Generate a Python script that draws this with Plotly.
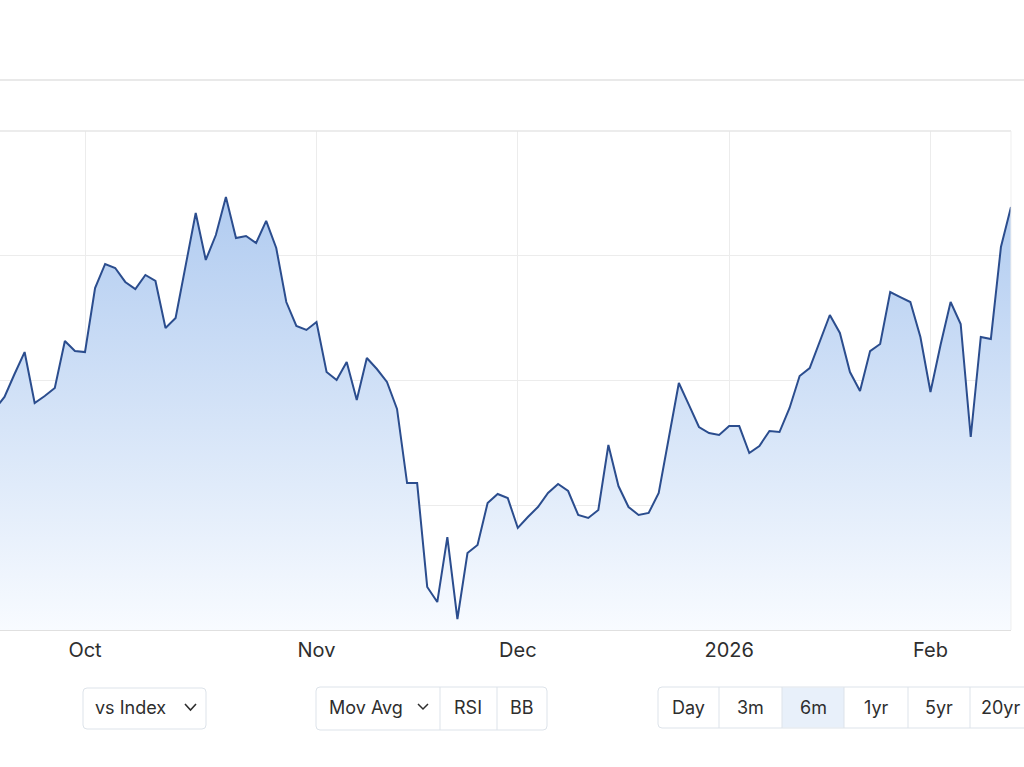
import pandas as pd
import plotly.graph_objects as go

# ---- data ----
holidays = ["2025-12-25", "2025-12-26", "2026-01-01", "2026-01-19"]
dates = [d.strftime("%Y-%m-%d") for d in pd.bdate_range("2025-09-18", "2026-02-12")
         if d.strftime("%Y-%m-%d") not in holidays]

prices = [
    77.64, 78.68, 80.52, 82.28, 78.20, 78.76, 79.40, 83.17, 82.36,           # Sep
    82.28, 87.41, 89.34, 89.02, 87.90, 87.33, 88.46, 87.98, 84.21, 85.01,     # Oct
    89.10, 93.43, 89.66, 91.66, 94.71, 91.42, 91.58, 91.02, 92.79, 90.62,
    86.29, 84.37, 84.05,
    84.69, 80.68, 80.04, 81.48, 78.44, 81.80, 80.92, 79.88, 77.72, 71.78,     # Nov
    71.78, 63.45, 62.24, 67.45, 60.88, 66.17, 66.81, 70.18, 70.90, 70.58,
    68.18, 69.06, 69.86, 70.98, 71.70, 71.14, 69.22, 68.98, 69.62, 74.83,     # Dec
    71.54, 69.86, 69.22, 69.38, 70.98, 75.39, 79.80, 78.04, 76.27, 75.79,
    75.63,
    76.35, 76.35, 74.19, 74.75, 75.95, 75.87, 77.80, 80.36, 81.00, 83.09,     # Jan
    85.25, 83.81, 80.68, 79.16, 82.36, 82.93, 87.09, 86.69, 86.29, 83.49,
    79.08, 82.85, 86.29, 84.53, 75.47, 83.49, 83.33, 90.70, 93.91,            # Feb
]

tick_dates = ["2025-10-01", "2025-11-03", "2025-12-01", "2026-01-02", "2026-02-02"]
tick_labels = ["Oct", "Nov", "Dec", "2026", "Feb"]
y_ticks = [60, 70, 80, 90, 100]

indicator_buttons = ["RSI", "BB"]
range_buttons = ["Day", "3m", "6m", "1yr", "5yr", "20yr"]
selected_range = "6m"

# ---- layout geometry (pixels) ----
W, H = 1024, 767
PL, PR = 0, 1011
PT, PB = 131, 630
PW, PH = PR - PL, PB - PT


def X(px):
    return (px - PL) / PW


def Y(py):
    return (PB - py) / PH


def rrect(x0, y0, x1, y1, r=4):
    pts = (f"M{X(x0 + r)},{Y(y0)} L{X(x1 - r)},{Y(y0)} Q{X(x1)},{Y(y0)} {X(x1)},{Y(y0 + r)} "
           f"L{X(x1)},{Y(y1 - r)} Q{X(x1)},{Y(y1)} {X(x1 - r)},{Y(y1)} "
           f"L{X(x0 + r)},{Y(y1)} Q{X(x0)},{Y(y1)} {X(x0)},{Y(y1 - r)} "
           f"L{X(x0)},{Y(y0 + r)} Q{X(x0)},{Y(y0)} {X(x0 + r)},{Y(y0)} Z")
    return pts


fig = go.Figure()
fig.add_trace(go.Scatter(
    x=dates, y=prices, mode="lines",
    line=dict(color="#2b4d8e", width=2),
    fill="tozeroy",
    fillgradient=dict(type="vertical",
                      colorscale=[[0, "rgba(248,251,255,1)"], [1, "rgba(176,203,240,1)"]],
                      start=60, stop=95),
    hoverinfo="skip",
    cliponaxis=True,
))

n = len(dates)
px_per = (PR - 85) / (n - 1 - dates.index("2025-10-01"))
x_start = (n - 1) - PW / px_per

BORDER = "#dde3ea"
TXT = "#2e2e2e"
FONT = "Inter"

shapes = []
annotations = []

# top separator line
shapes.append(dict(type="line", xref="paper", yref="paper", x0=X(0), x1=X(W), y0=Y(80), y1=Y(80),
                   line=dict(color="#e2e2e2", width=1.5)))
# plot frame: top and right edges
shapes.append(dict(type="line", xref="paper", yref="paper", x0=0, x1=1, y0=1, y1=1,
                   line=dict(color="#e6e6e6", width=1.5)))
shapes.append(dict(type="line", xref="paper", yref="paper", x0=1, x1=1, y0=0, y1=1,
                   line=dict(color="#efefef", width=1)))

# vs Index dropdown
shapes.append(dict(type="path", xref="paper", yref="paper", path=rrect(83, 688, 206, 729),
                   line=dict(color=BORDER, width=1), fillcolor="white"))
annotations.append(dict(text="vs Index", x=X(130), y=Y(707.5)))
shapes.append(dict(type="path", xref="paper", yref="paper",
                   path=f"M{X(185)},{Y(704)} L{X(190.5)},{Y(710)} L{X(196)},{Y(704)}",
                   line=dict(color=TXT, width=1.6)))

# Mov Avg / RSI / BB group
shapes.append(dict(type="path", xref="paper", yref="paper", path=rrect(316, 687, 547, 730),
                   line=dict(color=BORDER, width=1), fillcolor="white"))
for dx in [440, 497]:
    shapes.append(dict(type="line", xref="paper", yref="paper", x0=X(dx), x1=X(dx), y0=Y(687), y1=Y(730),
                       line=dict(color=BORDER, width=1)))
annotations.append(dict(text="Mov Avg", x=X(366), y=Y(707.5)))
shapes.append(dict(type="path", xref="paper", yref="paper",
                   path=f"M{X(418)},{Y(704)} L{X(423)},{Y(709)} L{X(428)},{Y(704)}",
                   line=dict(color=TXT, width=1.5)))
for label, cx in zip(indicator_buttons, [468, 522]):
    annotations.append(dict(text=label, x=X(cx), y=Y(707.5)))

# range group
edges = [658, 719, 782, 844, 908, 970, 1040]
for i, label in enumerate(range_buttons):
    if label == selected_range:
        shapes.append(dict(type="rect", xref="paper", yref="paper", x0=X(edges[i]), x1=X(edges[i + 1]),
                           y0=Y(687.5), y1=Y(727.5), line=dict(width=0), fillcolor="#e8f0fa", layer="below"))
shapes.append(dict(type="path", xref="paper", yref="paper", path=rrect(658, 687, 1040, 728),
                   line=dict(color=BORDER, width=1), fillcolor="rgba(0,0,0,0)"))
for dx in edges[1:-1]:
    shapes.append(dict(type="line", xref="paper", yref="paper", x0=X(dx), x1=X(dx), y0=Y(687), y1=Y(728),
                       line=dict(color=BORDER, width=1)))
for i, label in enumerate(range_buttons):
    cx = (edges[i] + edges[i + 1]) / 2 if i < len(range_buttons) - 1 else 1000
    annotations.append(dict(text=label, x=X(cx), y=Y(707.5)))

for a in annotations:
    a.update(xref="paper", yref="paper", showarrow=False, xanchor="center", yanchor="middle",
             font=dict(family=FONT, size=18, color=TXT))

fig.update_layout(
    width=W, height=H,
    margin=dict(l=PL, r=W - PR, t=PT, b=H - PB, pad=0),
    paper_bgcolor="white", plot_bgcolor="white",
    showlegend=False,
    shapes=shapes, annotations=annotations,
    xaxis=dict(type="category", range=[x_start, n - 1],
               tickmode="array", tickvals=tick_dates, ticktext=tick_labels,
               showgrid=True, gridcolor="#ececec", gridwidth=1,
               ticks="", showline=True, linecolor="#e0e0e0", linewidth=1,
               ticklabelstandoff=2,
               tickfont=dict(family=FONT, size=20, color=TXT),
               zeroline=False, fixedrange=True),
    yaxis=dict(range=[60, 100], tickmode="array", tickvals=y_ticks,
               showticklabels=False, showgrid=True, gridcolor="#ececec", gridwidth=1,
               zeroline=False, ticks="", fixedrange=True),
)

fig.write_html("out.html", config={"displayModeBar": False})
